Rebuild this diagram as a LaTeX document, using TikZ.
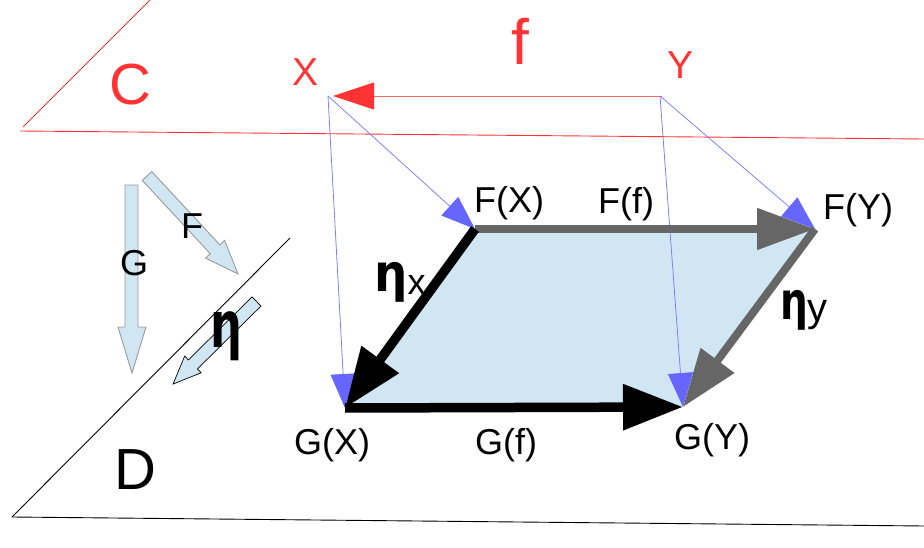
\documentclass[tikz,border=0pt]{standalone}
\usepackage{fontspec}
\setmainfont{Liberation Sans}
\newfontfamily\etafont{DejaVu Sans}
\usetikzlibrary{arrows.meta}
\definecolor{cred}{HTML}{FF3333}
\definecolor{credl}{HTML}{FF6666}
\definecolor{lblue}{HTML}{D0E7F3}
\definecolor{bline}{HTML}{8080FF}
\definecolor{bhead}{HTML}{6666FF}
\definecolor{cgray}{HTML}{666666}
\begin{document}
\begin{tikzpicture}[x=1bp,y=-1bp,
  lbl/.style={inner sep=0pt, font=\fontsize{36bp}{40bp}\selectfont},
  redlbl/.style={inner sep=0pt, text=cred, font=\fontsize{39bp}{42bp}\selectfont},
  biglbl/.style={inner sep=0pt, font=\fontsize{58bp}{60bp}\selectfont},
  etalbl/.style={inner sep=0pt, anchor=base west},
  blueline/.style={draw=bline, line width=0.8bp, -{Triangle[length=34bp,width=25bp,color=bhead]}},
  grayarrow/.style={draw=cgray, line width=8bp, -{Triangle[length=58bp,width=40bp]}},
  blackarrow/.style={draw=black, line width=9.5bp, -{Triangle[length=60bp,width=44bp]}},
  blockarr/.style={fill=lblue, draw=black!40, line width=0.9bp},
  plane/.style={line width=0.9bp}
]
\useasboundingbox (0,0) rectangle (924,548);

% planes
\draw[plane, cred] (150,0) -- (23,127);
\draw[plane, cred] (20,131) -- (924,139);
\draw[plane, black] (290,238) -- (12,517);
\draw[plane, black] (12,517) -- (924,526);

% plane labels
\node[biglbl, text=cred] (Clab) at (130,85) {C};
\node[biglbl] (Dlab) at (135,470) {D};

% objects in C
\coordinate (Xp) at (328,96);
\coordinate (Yp) at (660,96);
\node[redlbl] (Xlab) at (306,72) {X};
\node[redlbl] (Ylab) at (680,65) {Y};
\node[inner sep=0pt, text=cred, font=\fontsize{64bp}{66bp}\selectfont] (flab) at (520,41) {f};

% square corners
\coordinate (FX) at (475,229);
\coordinate (FY) at (815,229);
\coordinate (GX) at (345,408);
\coordinate (GY) at (683,407);

\fill[lblue] (FX) -- (FY) -- (GY) -- (GX) -- cycle;

% red arrow f
\draw[credl, line width=0.9bp, shorten >=5bp, shorten <=-2bp,
  -{Triangle[length=41bp,width=27bp,color=cred]}] (Yp) -- (Xp);

% blue functor lines
\draw[blueline] (Xp) -- (FX);
\draw[blueline] (Xp) -- (GX);
\draw[blueline] (Yp) -- (FY);
\draw[blueline] (Yp) -- (GY);

% thick arrows
\draw[grayarrow] (FX) -- (FY);
\draw[grayarrow] (FY) -- (GY);
\draw[blackarrow] (FX) -- (GX);
\draw[blackarrow] (GX) -- (GY);

% labels of square
\node[lbl] (FXlab) at (509,203) {F(X)};
\node[lbl] (Fflab) at (626,204) {F(f)};
\node[lbl] (FYlab) at (858,210) {F(Y)};
\node[lbl] (GXlab) at (332,445) {G(X)};
\node[lbl] (Gflab) at (506,445) {G(f)};
\node[lbl] (GYlab) at (712,440) {G(Y)};

\node[etalbl] (etaX) at (374,292) {\scalebox{0.9}[1]{\etafont\bfseries\fontsize{52bp}{52bp}\selectfont η}\raisebox{-3bp}{\fontsize{36bp}{36bp}\selectfont x}};
\node[etalbl] (etaY) at (780,320) {\scalebox{0.75}[1]{\etafont\bfseries\fontsize{52bp}{52bp}\selectfont η}\raisebox{-2bp}{\fontsize{40bp}{40bp}\selectfont y}};

% left legend block arrows
\draw[blockarr] (125,185) -- (138,185) -- (138,327) -- (146,327) -- (132,373) -- (118,327) -- (125,327) -- cycle;
\begin{scope}[shift={(147,176)}, rotate=-47.1]
  \draw[blockarr] (0,-6.5) -- (100,-6.5) -- (100,-13) -- (133.7,0) -- (100,13) -- (100,6.5) -- (0,6.5) -- cycle;
\end{scope}
\begin{scope}[shift={(256.5,301.5)}, rotate=-135.3]
  \draw[blockarr, draw=black, line width=0.7bp] (0,-6.4) -- (89.5,-6.4) -- (89.5,-11.7) -- (117.4,0) -- (89.5,11.7) -- (89.5,6.4) -- (0,6.4) -- cycle;
\end{scope}
\node[lbl] (Glab) at (134,263) {G};
\node[lbl] (Flab) at (192,226) {F};
\node[etalbl] (etaL) at (210,348) {\scalebox{0.7}[1]{\etafont\bfseries\fontsize{64bp}{64bp}\selectfont η}};
\end{tikzpicture}
\end{document}
